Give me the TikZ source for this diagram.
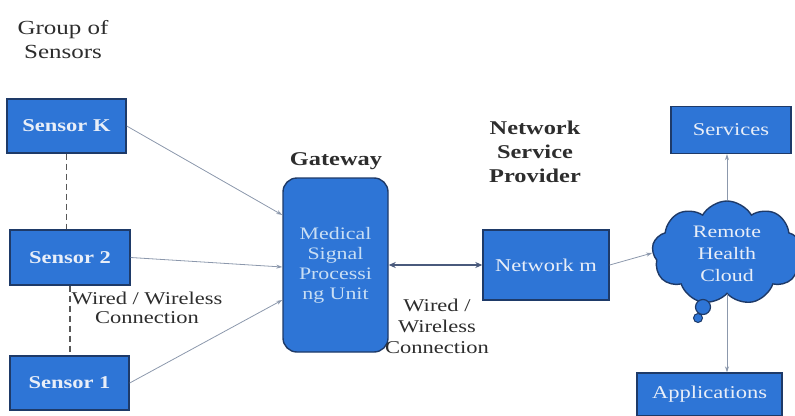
\documentclass[tikz,border=0pt]{standalone}
\usepackage{fontspec}
\setmainfont{Liberation Serif}[FakeStretch=1.25]
\usetikzlibrary{shapes.symbols,arrows.meta}

\definecolor{boxblue}{RGB}{46,117,214}
\definecolor{boxedge}{RGB}{30,58,104}
\definecolor{linkgray}{RGB}{140,152,172}
\definecolor{duplex}{RGB}{74,90,124}
\definecolor{labelgray}{RGB}{45,45,45}
\definecolor{boxtext}{RGB}{232,238,248}
\definecolor{gwtext}{RGB}{200,222,244}

\tikzset{
  unitbox/.style={draw=boxedge, line width=1.4pt, fill=boxblue, text=boxtext, inner sep=0pt},
  sensorbox/.style={unitbox, font=\fontsize{18}{21}\selectfont\bfseries},
  plainbox/.style={unitbox, font=\fontsize{18}{21}\selectfont},
  caption/.style={text=labelgray, align=center},
  link/.style={draw=linkgray, line width=0.8pt, -{Stealth[length=6pt,width=4pt]}},
  chain/.style={draw=labelgray!80, line width=1.6pt, dash pattern=on 6pt off 4pt}
}

\begin{document}
\begin{tikzpicture}[x=1pt,y=-1pt]
\useasboundingbox (0,0) rectangle (795,415);

% sensors
\node[sensorbox, minimum width=119pt, minimum height=54pt] (sensorK) at (66.5,126) {Sensor K};
\node[sensorbox, minimum width=120pt, minimum height=55pt] (sensor2) at (70,257.5) {Sensor 2};
\node[sensorbox, minimum width=119pt, minimum height=54pt] (sensor1) at (69.5,383) {Sensor 1};

% gateway
\node[unitbox, rounded corners=14pt, minimum width=105pt, minimum height=174pt,
      align=center, text=gwtext, font=\fontsize{17.5}{20}\selectfont] (gateway) at (335.5,265)
      {Medical\\Signal\\Processi\\ng Unit};

% network and cloud side
\node[plainbox, minimum width=126pt, minimum height=70pt] (network) at (546,265) {Network m};
\node[plainbox, minimum width=120pt, minimum height=47pt] (services) at (731,130) {Services};
\node[plainbox, minimum width=145pt, minimum height=43pt] (apps) at (709.5,394.5) {Applications};
\node[unitbox, cloud, cloud puffs=9, cloud puff arc=120, aspect=1.4, minimum width=150pt, minimum height=104pt,
      align=center, font=\fontsize{17.5}{22}\selectfont] (cloud) at (727,253) {\\[-8pt]Remote\\Health\\Cloud};
\node[unitbox, circle, minimum size=15pt, line width=1.2pt] (bubbleA) at (703,307) {};
\node[unitbox, circle, minimum size=9pt, line width=1pt] (bubbleB) at (698,318) {};

% captions
\node[caption, font=\fontsize{20}{24}\selectfont] (group) at (63,40) {Group of\\Sensors};
\node[caption, font=\fontsize{19.5}{24}\selectfont\bfseries] (gwlabel) at (336,161) {Gateway};
\node[caption, font=\fontsize{19.5}{24}\selectfont\bfseries] (nsp) at (535,152) {Network\\Service\\Provider};
\node[caption, font=\fontsize{18}{19.5}\selectfont] (wiredL) at (147,308) {Wired / Wireless\\Connection};
\node[caption, font=\fontsize{18}{21}\selectfont] (wiredM) at (437,326) {Wired /\\Wireless\\Connection};

% connectors
\draw[chain] (sensorK.south) -- (sensorK.south |- sensor2.north);
\draw[chain] (sensor2.south) -- (sensor2.south |- sensor1.north);
\draw[link] (sensorK.east) -- ([yshift=50pt]gateway.west);
\draw[link] (sensor2.east) -- ([yshift=-2pt]gateway.west);
\draw[link] (sensor1.east) -- ([yshift=-35pt]gateway.west);
\draw[draw=duplex, line width=1.2pt, {Stealth[length=7pt,width=6pt]}-{Stealth[length=7pt,width=6pt]}]
  (gateway.east) -- (network.west);
\draw[link] (network.east) -- (cloud.west);
\draw[link] (cloud.north) -- (cloud.north |- services.south);
\draw[link] (cloud.south) -- (cloud.south |- apps.north);
\end{tikzpicture}
\end{document}
